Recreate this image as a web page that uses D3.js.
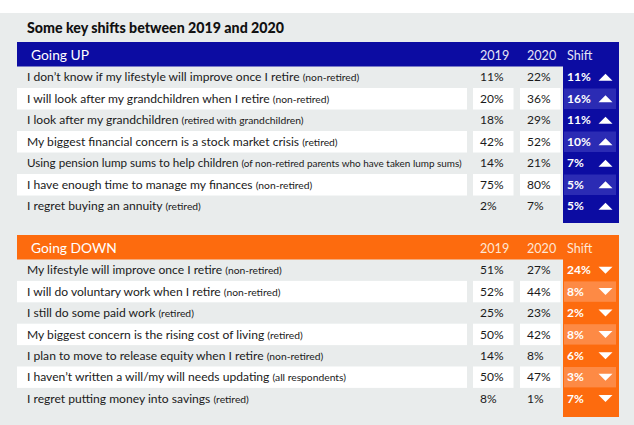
<!DOCTYPE html>
<html><head><meta charset="utf-8">
<script src="https://cdn.jsdelivr.net/npm/d3@7"></script>
<style>
html,body{margin:0;padding:0;background:#fff;}
svg{display:block;font-family:Lato,"Noto Sans",sans-serif;}
</style></head>
<body>
<script>
const title = "Some key shifts between 2019 and 2020";
const columnLabels = ["2019", "2020", "Shift"];

const upTitle = "Going UP";
const upLabels = [
  "I don\u2019t know if my lifestyle will improve once I retire",
  "I will look after my grandchildren when I retire",
  "I look after my grandchildren",
  "My biggest financial concern is a stock market crisis",
  "Using pension lump sums to help children",
  "I have enough time to manage my finances",
  "I regret buying an annuity"
];
const upQualifiers = [
  "(non-retired)", "(non-retired)", "(retired with grandchildren)", "(retired)",
  "(of non-retired parents who have taken lump sums)", "(non-retired)", "(retired)"
];
const up2019 = [11, 20, 18, 42, 14, 75, 2];
const up2020 = [22, 36, 29, 52, 21, 80, 7];
const upShift = [11, 16, 11, 10, 7, 5, 5];

const downTitle = "Going DOWN";
const downLabels = [
  "My lifestyle will improve once I retire",
  "I will do voluntary work when I retire",
  "I still do some paid work",
  "My biggest concern is the rising cost of living",
  "I plan to move to release equity when I retire ",
  "I haven\u2019t written a will/my will needs updating",
  "I regret putting money into savings"
];
const downQualifiers = [
  "(non-retired)", "(non-retired)", "(retired)", "(retired)",
  "(non-retired)", "(all respondents)", "(retired)"
];
const down2019 = [51, 52, 25, 50, 14, 50, 8];
const down2020 = [27, 44, 23, 42, 8, 47, 1];
const downShift = [24, 8, 2, 8, 6, 3, 7];

const W = 634, H = 425;
const svg = d3.select("body").append("svg").attr("width", W).attr("height", H);

svg.append("rect").attr("x", 0).attr("y", 0).attr("width", W).attr("height", H).attr("fill", "#ffffff");
svg.append("rect").attr("x", 0).attr("y", 13).attr("width", W).attr("height", H - 13).attr("fill", "#e9ecec");

svg.append("text").attr("x", 27).attr("y", 33)
  .attr("font-size", 14.2).attr("font-weight", 900).attr("fill", "#111")
  .text(title);

const left = 17, right = 619;
const colX = d3.scaleOrdinal().domain(columnLabels).range([480, 527, 567]);
const cellL = {"2019": 473, "2020": 520};
const cellW = 40.5;
const shiftL = 563;
const maxLabelW = 435;

function section(cfg) {
  const g = svg.append("g");
  const n = cfg.labels.length;
  const y = d3.scaleBand().domain(d3.range(n)).range([cfg.rowsTop, cfg.rowsTop + n * cfg.rowH]);

  g.append("rect").attr("x", left).attr("y", cfg.headerTop).attr("width", right - left)
    .attr("height", cfg.rowsTop - cfg.headerTop).attr("fill", cfg.dark);
  g.append("rect").attr("x", shiftL).attr("y", cfg.headerTop).attr("width", right - shiftL)
    .attr("height", cfg.colBottom - cfg.headerTop).attr("fill", cfg.dark);

  g.append("text").attr("x", 31).attr("y", cfg.headerTop + 17.5)
    .attr("font-size", 13.8).attr("fill", "#fff").text(cfg.title);
  g.selectAll("text.col").data(columnLabels).join("text").attr("class", "col")
    .attr("x", d => colX(d)).attr("y", cfg.headerTop + 17.5)
    .attr("font-size", 12.6).attr("fill", cfg.headText).text(d => d);

  const idx = d3.range(n);
  const white = idx.filter(i => i % 2 === 1);

  g.selectAll("rect.wl").data(white).join("rect").attr("class", "wl")
    .attr("x", left).attr("y", i => y(i)).attr("width", 467 - left).attr("height", y.bandwidth())
    .attr("fill", "#fff");
  ["2019", "2020"].forEach(c => {
    g.selectAll("rect.w" + c).data(white).join("rect").attr("class", "w" + c)
      .attr("x", cellL[c]).attr("y", i => y(i)).attr("width", cellW).attr("height", y.bandwidth())
      .attr("fill", "#fff");
  });
  g.selectAll("rect.ws").data(white).join("rect").attr("class", "ws")
    .attr("x", shiftL + 1).attr("y", i => y(i) + 0.5).attr("width", 52).attr("height", y.bandwidth() - 1)
    .attr("fill", cfg.light);

  const lab = g.selectAll("text.lab").data(idx).join("text").attr("class", "lab")
    .attr("transform", i => `translate(27,${y(i) + y.bandwidth() / 2 + 4.2})`)
    .attr("fill", "#1a1a1a").attr("font-size", 12.1);
  lab.append("tspan").text(i => cfg.labels[i] + " ");
  lab.append("tspan").attr("font-size", 10.3).text(i => cfg.qualifiers[i]);
  lab.each(function(i) {
    const w = this.getComputedTextLength();
    if (w > maxLabelW) {
      d3.select(this).attr("transform", `translate(27,${y(i) + y.bandwidth() / 2 + 4.2}) scale(${maxLabelW / w},1)`);
    }
  });

  g.selectAll("text.v19").data(idx).join("text").attr("class", "v19")
    .attr("x", colX("2019")).attr("y", i => y(i) + y.bandwidth() / 2 + 4.2)
    .attr("font-size", 12).attr("fill", "#1a1a1a").text(i => cfg.v2019[i] + "%");
  g.selectAll("text.v20").data(idx).join("text").attr("class", "v20")
    .attr("x", colX("2020")).attr("y", i => y(i) + y.bandwidth() / 2 + 4.2)
    .attr("font-size", 12).attr("fill", "#1a1a1a").text(i => cfg.v2020[i] + "%");
  g.selectAll("text.sh").data(idx).join("text").attr("class", "sh")
    .attr("x", colX("Shift")).attr("y", i => y(i) + y.bandwidth() / 2 + 4.2)
    .attr("font-size", 12).attr("font-weight", 700).attr("fill", "#fff").text(i => cfg.shift[i] + "%");

  const tri = cfg.dir === "up" ? "M-7,3.5L7,3.5L0,-3.5Z" : "M-7,-3.5L7,-3.5L0,3.5Z";
  g.selectAll("path.tri").data(idx).join("path").attr("class", "tri")
    .attr("transform", i => `translate(605.5,${y(i) + y.bandwidth() / 2})`)
    .attr("d", tri).attr("fill", "#fff");
}

section({
  title: upTitle, labels: upLabels, qualifiers: upQualifiers,
  v2019: up2019, v2020: up2020, shift: upShift, dir: "up",
  headerTop: 42, rowsTop: 66.5, rowH: 21.5, colBottom: 223,
  dark: "#0c0ca2", light: "#2b2bb4", headText: "#e4e4f6"
});
section({
  title: downTitle, labels: downLabels, qualifiers: downQualifiers,
  v2019: down2019, v2020: down2020, shift: downShift, dir: "down",
  headerTop: 235, rowsTop: 259.5, rowH: 21.4, colBottom: 417,
  dark: "#fd6b0e", light: "#fd8a45", headText: "#ffe6d4"
});
</script>
</body></html>
